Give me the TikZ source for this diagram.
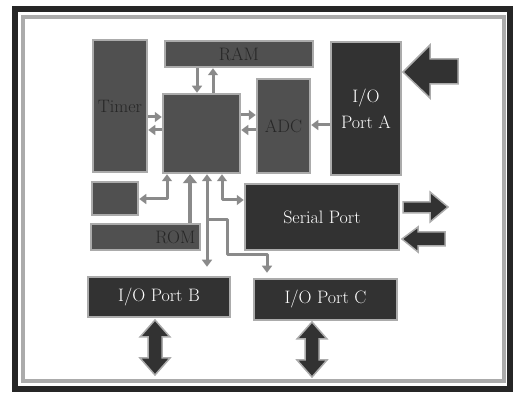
\documentclass[tikz,border=0pt]{standalone}
\usetikzlibrary{arrows.meta}
\definecolor{blockgray}{HTML}{505050}
\definecolor{darkblock}{HTML}{323232}
\definecolor{busgray}{HTML}{8A8A8A}
\definecolor{halo}{HTML}{ABABAB}
\begin{document}
\begin{tikzpicture}[x=1pt,y=-1pt,
  blk/.style={rectangle, fill=blockgray, draw=halo, line width=2.5pt, inner sep=0pt,
    font=\fontsize{18}{26}\selectfont, text=black!85},
  dblk/.style={blk, fill=darkblock, text=white},
  bus/.style={draw=busgray, line width=3pt, line join=round, -{Triangle[width=10pt,length=7pt]}},
  bbus/.style={bus, {Triangle[width=10pt,length=7pt]}-{Triangle[width=10pt,length=7pt]}},
  wbus/.style={draw=busgray, line width=4pt, line join=round, -{Triangle[width=14pt,length=9pt]}},
  big/.style={fill=darkblock, draw=halo, line width=1.5pt, line join=miter}]
\useasboundingbox (0,0) rectangle (515,398);
% frame
\draw[line width=4pt, halo] (23,17) rectangle (504,381);
\draw[line width=5.5pt, black!85] (15,9) rectangle (510,389);
% blocks
\node[blk, minimum width=54pt, minimum height=132pt] (timer) at (120,106) {Timer};
\node[blk, minimum width=148pt, minimum height=26pt] (ram) at (239,54) {RAM};
\node[blk, minimum width=77pt, minimum height=79pt] (cpu) at (201.5,133.5) {};
\node[blk, minimum width=53pt, minimum height=94pt] (adc) at (283.5,126) {ADC};
\node[dblk, minimum width=70pt, minimum height=133pt, align=center] (porta) at (366,108.5) {I/O\\Port A};
\node[blk, minimum width=46pt, minimum height=33pt] (small) at (115,198.5) {};
\node[blk, minimum width=109pt, minimum height=26pt, text width=100pt, align=right] (rom) at (145.5,237) {ROM};
\node[dblk, minimum width=154pt, minimum height=66pt] (serial) at (322,217) {Serial Port};
\node[dblk, minimum width=142pt, minimum height=40pt] (portb) at (159,297) {I/O Port B};
\node[dblk, minimum width=143pt, minimum height=41pt] (portc) at (325.5,299.5) {I/O Port C};
% big arrows
\filldraw[big] (403,72) -- (430,45) -- (430,59) -- (458,59) -- (458,84) -- (430,84) -- (430,98) -- cycle;
\filldraw[big] (403,202) -- (430,202) -- (430,192) -- (448,207) -- (430,222) -- (430,213) -- (403,213) -- cycle;
\filldraw[big] (402,239) -- (418,227) -- (418,232) -- (445,232) -- (445,246) -- (418,246) -- (418,252) -- cycle;
\filldraw[big] (155,320) -- (170,337) -- (162,337) -- (162,358) -- (170,358) -- (155,375) -- (140,358) -- (148,358) -- (148,337) -- (140,337) -- cycle;
\filldraw[big] (312,322) -- (327,339) -- (319,339) -- (319,360) -- (327,360) -- (312,377) -- (297,360) -- (305,360) -- (305,339) -- (297,339) -- cycle;
% small bus arrows
\draw[bus] (ram.south -| 197,0) -- (cpu.north -| 197,0);
\draw[bus] (cpu.north -| 213,0) -- (ram.south -| 213,0);
\draw[bus] (timer.east |- 0,117) -- (cpu.west |- 0,117);
\draw[bus] (cpu.west |- 0,130) -- (timer.east |- 0,130);
\draw[bus] (cpu.east |- 0,115) -- (adc.west |- 0,115);
\draw[bus] (adc.west |- 0,130) -- (cpu.east |- 0,130);
\draw[bus] (porta.west |- 0,125) -- (adc.east |- 0,125);
\draw[bbus] (small.east |- 0,199) -| (cpu.south -| 167,0);
\draw[wbus] (rom.north -| 190,0) -- (cpu.south -| 190,0);
\coordinate (j) at (207,220);
\draw[bbus] (cpu.south -| 207,0) -- ([yshift=9pt]portb.north -| 207,0);
\draw[bbus] (cpu.south -| 222,0) |- (serial.west |- 0,200);
\draw[bus] (j) -| (227,255) -| ([yshift=5pt]portc.north -| 267,0);
\end{tikzpicture}
\end{document}
